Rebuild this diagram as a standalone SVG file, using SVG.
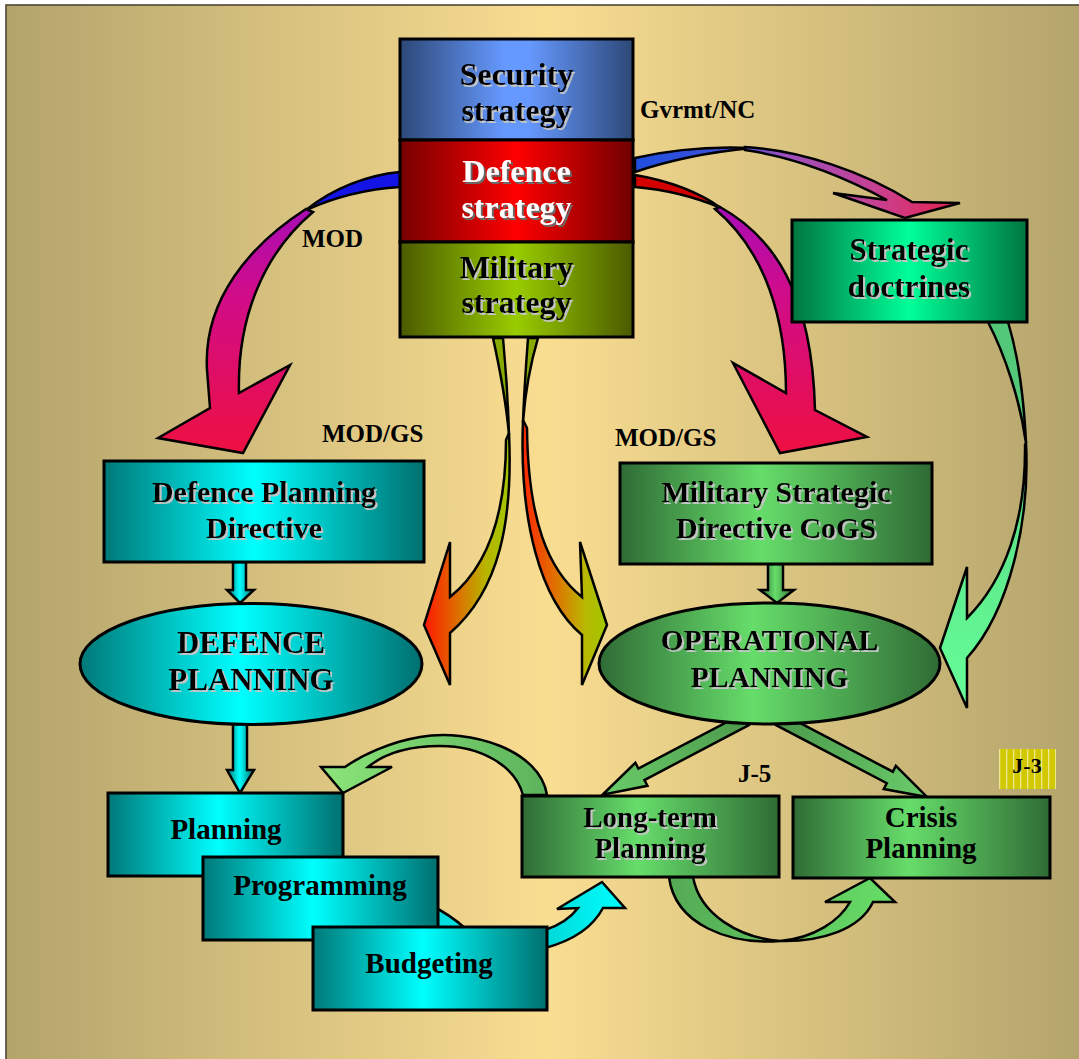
<svg xmlns="http://www.w3.org/2000/svg" width="1079" height="1059" viewBox="0 0 1079 1059">
<defs>
  <linearGradient id="bg" x1="0" y1="0" x2="1" y2="0">
    <stop offset="0" stop-color="#b3a46c"/><stop offset="0.5" stop-color="#f9dd91"/><stop offset="1" stop-color="#b3a46c"/>
  </linearGradient>
  <linearGradient id="gBlue" x1="0" y1="0" x2="1" y2="0">
    <stop offset="0" stop-color="#2d4877"/><stop offset="0.45" stop-color="#6699ff"/><stop offset="0.55" stop-color="#6699ff"/><stop offset="1" stop-color="#2d4877"/>
  </linearGradient>
  <linearGradient id="gRed" x1="0" y1="0" x2="1" y2="0">
    <stop offset="0" stop-color="#760000"/><stop offset="0.5" stop-color="#ff0000"/><stop offset="1" stop-color="#700000"/>
  </linearGradient>
  <linearGradient id="gOlive" x1="0" y1="0" x2="1" y2="0">
    <stop offset="0" stop-color="#4a5a00"/><stop offset="0.5" stop-color="#99cc00"/><stop offset="1" stop-color="#4a5a00"/>
  </linearGradient>
  <linearGradient id="gTeal" x1="0" y1="0" x2="1" y2="0">
    <stop offset="0" stop-color="#007878"/><stop offset="0.47" stop-color="#00ffff"/><stop offset="1" stop-color="#006f6f"/>
  </linearGradient>
  <linearGradient id="gGreen" x1="0" y1="0" x2="1" y2="0">
    <stop offset="0" stop-color="#2f6b35"/><stop offset="0.45" stop-color="#66dd6a"/><stop offset="1" stop-color="#2f6b35"/>
  </linearGradient>
  <linearGradient id="gSD" x1="0" y1="0" x2="1" y2="0">
    <stop offset="0" stop-color="#007540"/><stop offset="0.5" stop-color="#00ff99"/><stop offset="1" stop-color="#007540"/>
  </linearGradient>
  <linearGradient id="gMod" gradientUnits="userSpaceOnUse" x1="0" y1="205" x2="0" y2="455">
    <stop offset="0" stop-color="#a80cb8"/><stop offset="0.35" stop-color="#d00c8a"/><stop offset="1" stop-color="#ee1040"/>
  </linearGradient>
  <linearGradient id="gDoc" gradientUnits="userSpaceOnUse" x1="635" y1="0" x2="960" y2="0">
    <stop offset="0" stop-color="#1f4fe0"/><stop offset="0.3" stop-color="#4050d8"/><stop offset="0.45" stop-color="#9a50c0"/><stop offset="0.75" stop-color="#c84090"/><stop offset="1" stop-color="#e8204a"/>
  </linearGradient>
  <linearGradient id="gCL" gradientUnits="userSpaceOnUse" x1="424" y1="0" x2="512" y2="0">
    <stop offset="0" stop-color="#ff1800"/><stop offset="0.35" stop-color="#e06800"/><stop offset="0.7" stop-color="#b8b400"/><stop offset="1" stop-color="#9ec800"/>
  </linearGradient>
  <linearGradient id="gCR" gradientUnits="userSpaceOnUse" x1="520" y1="0" x2="607" y2="0">
    <stop offset="0" stop-color="#ff2000"/><stop offset="0.4" stop-color="#e07000"/><stop offset="0.75" stop-color="#b8b800"/><stop offset="1" stop-color="#a0c800"/>
  </linearGradient>
  <linearGradient id="gDocOp" gradientUnits="userSpaceOnUse" x1="0" y1="322" x2="0" y2="708">
    <stop offset="0" stop-color="#52c878"/><stop offset="1" stop-color="#66ff99"/>
  </linearGradient>
  <linearGradient id="gOP" x1="0" y1="0" x2="1" y2="0">
    <stop offset="0" stop-color="#4c9a4c"/><stop offset="1" stop-color="#6acc6a"/>
  </linearGradient>
  <linearGradient id="gLP" gradientUnits="userSpaceOnUse" x1="321" y1="0" x2="547" y2="0">
    <stop offset="0" stop-color="#8be57a"/><stop offset="1" stop-color="#5cb35c"/>
  </linearGradient>
  <linearGradient id="gLC" gradientUnits="userSpaceOnUse" x1="669" y1="0" x2="895" y2="0">
    <stop offset="0" stop-color="#55aa55"/><stop offset="1" stop-color="#66dd66"/>
  </linearGradient>
  <linearGradient id="gCy" gradientUnits="userSpaceOnUse" x1="545" y1="0" x2="625" y2="0">
    <stop offset="0" stop-color="#00d8d8"/><stop offset="1" stop-color="#00ffff"/>
  </linearGradient>
  <pattern id="stripes" width="7" height="40" patternUnits="userSpaceOnUse">
    <rect width="7" height="40" fill="#d2c800"/><rect x="5" width="1.3" height="40" fill="#ece890"/>
  </pattern>
  <filter id="sh" x="-5%" y="-10%" width="115%" height="140%">
    <feDropShadow dx="2" dy="2" stdDeviation="0.3" flood-color="#c4c4c4" flood-opacity="1"/>
  </filter>
  <filter id="shw" x="-5%" y="-10%" width="115%" height="140%">
    <feDropShadow dx="2" dy="2" stdDeviation="0.3" flood-color="#6a6a6a" flood-opacity="1"/>
  </filter>
</defs>
<style>
  .bx{stroke:#000;stroke-width:3}
  .ar{stroke:#000;stroke-width:2.5;stroke-linejoin:miter}
  .t{font-family:"Liberation Serif","Times New Roman",serif;font-weight:bold;text-anchor:middle;fill:#000}
  .lb{font-family:"Liberation Serif","Times New Roman",serif;font-weight:bold;fill:#000;font-size:25px}
</style>

<rect x="0" y="0" width="1079" height="1059" fill="#ffffff"/>
<rect x="6" y="5" width="1080" height="1060" fill="url(#bg)" stroke="#4e4636" stroke-width="1.6"/>

<g id="connectors">
  <!-- MOD arrow -->
  <path class="ar" fill="#1414e6" d="M400,172 C368,175 333,188 306,210 C335,197 368,189 400,187 Z"/>
  <path class="ar" fill="url(#gMod)" d="M306,209 C250,245 203,300 207,370 L210,408 L158,438 L243,453 L290,365 L239,393 C237,320 262,255 313,212 Z"/>
  <!-- Defence strategy to Military Strategic Directive -->
  <path class="ar" fill="#d40000" d="M635,175 C670,181 700,193 721,208 C700,199 670,190 635,187 Z"/>
  <path class="ar" fill="url(#gMod)" d="M720,207 C772,236 812,290 815,410 L867,437 L780,453 L733,363 L786,393 C786,320 766,252 715,209 Z"/>
  <!-- to Strategic doctrines -->
  <path class="ar" fill="url(#gDoc)" d="M635,158 C670,150 710,146 752,148 C710,152 670,160 635,172 Z"/>
  <path class="ar" fill="url(#gDoc)" d="M745,147 C800,150 865,172 912,202 L960,203 L905,218 L833,193 L887,200 C850,180 800,158 745,150 Z"/>
  <!-- Strategic doctrines to Operational planning -->
  <path class="ar" fill="#52c878" d="M988,322 C1005,355 1020,400 1026,443 C1024,400 1018,355 1008,322 Z"/>
  <path class="ar" fill="url(#gDocOp)" d="M1026,443 C1030,520 1010,610 967,658 L967,708 L940,648 L967,567 L967,618 C1005,580 1026,520 1025,445 Z"/>
  <!-- Military strategy to Defence planning -->
  <path class="ar" fill="#88aa00" d="M493,338 C500,370 506,400 509,435 C508,400 506,370 503,338 Z"/>
  <path class="ar" fill="url(#gCL)" d="M509,433 C513,520 500,590 450,633 L450,685 L424,625 L450,542 L450,597 C490,565 506,510 506,440 Z"/>
  <!-- Military strategy to Operational planning -->
  <path class="ar" fill="#88aa00" d="M528,338 C526,365 524,395 523,422 C525,395 530,365 538,338 Z"/>
  <path class="ar" fill="url(#gCR)" d="M523,420 C519,520 540,600 582,635 L582,685 L607,625 L580,542 L582,597 C548,570 528,520 527,428 Z"/>
  <!-- straight arrows -->
  <path class="ar" fill="url(#gTeal)" d="M233,562 L246,562 L246,590 L254,590 L240,603 L227,590 L233,590 Z"/>
  <path class="ar" fill="url(#gTeal)" d="M233,722 L247,722 L247,770 L254,770 L240,793 L227,770 L233,770 Z"/>
  <path class="ar" fill="url(#gGreen)" d="M768,564 L783,564 L783,590 L794,590 L777,603 L760,590 L768,590 Z"/>
  <path class="ar" fill="url(#gOP)" transform="translate(737,724) rotate(152.26)" d="M-10,-6.5 L108,-6.5 L108,-13 L152,0 L108,13 L108,6.5 L-10,6.5 Z"/>
  <path class="ar" fill="url(#gOP)" transform="translate(788,724) rotate(27.7)" d="M-10,-6.5 L115,-6.5 L115,-13 L157,0 L115,13 L115,6.5 L-10,6.5 Z"/>
  <!-- Long-term to Planning -->
  <path class="ar" fill="url(#gLP)" d="M547,795 C540,750 470,728 420,737 C390,742 362,755 345,767 L321,767 L343,793 L392,767 L368,767 C385,753 410,746 440,746 C480,746 515,765 523,795 Z"/>
  <!-- Budgeting to Long-term -->
  <path class="ar" fill="url(#gCy)" d="M545,930 C560,925 572,916 578,908 L557,909 L602,882 L625,908 L603,908 C594,925 575,940 545,948 Z"/>
  <!-- Long-term to Crisis -->
  <path class="ar" fill="url(#gLC)" d="M669,877 C675,925 730,945 780,941 C815,938 840,920 850,902 L825,902 L870,878 L895,902 L873,902 C860,930 820,942 780,941 C740,938 700,915 693,877 Z"/>
  <!-- hidden cyan arrow part between Programming and Budgeting -->
  <path class="ar" fill="#00e0e0" d="M430,905 C445,912 456,920 466,929 L430,935 Z"/>
</g>

<g id="security-strategy">
  <rect class="bx" x="400" y="39" width="233" height="101" fill="url(#gBlue)"/>
  <text class="t" font-size="32" filter="url(#sh)"><tspan x="516.5" y="85">Security</tspan><tspan x="516.5" y="121">strategy</tspan></text>
</g>
<g id="defence-strategy">
  <rect class="bx" x="400" y="140" width="233" height="102" fill="url(#gRed)"/>
  <text class="t" font-size="32" fill="#ffffff" style="fill:#ffffff" filter="url(#shw)"><tspan x="516.5" y="182">Defence</tspan><tspan x="516.5" y="218">strategy</tspan></text>
</g>
<g id="military-strategy">
  <rect class="bx" x="400" y="242" width="233" height="95" fill="url(#gOlive)"/>
  <text class="t" font-size="32" filter="url(#sh)"><tspan x="516.5" y="278">Military</tspan><tspan x="516.5" y="313">strategy</tspan></text>
</g>
<g id="strategic-doctrines">
  <rect class="bx" x="792" y="220" width="235" height="102" fill="url(#gSD)"/>
  <text class="t" font-size="31" filter="url(#sh)"><tspan x="909" y="260">Strategic</tspan><tspan x="909" y="297">doctrines</tspan></text>
</g>
<g id="defence-planning-directive">
  <rect class="bx" x="104" y="461" width="320" height="101" fill="url(#gTeal)"/>
  <text class="t" font-size="30" filter="url(#sh)"><tspan x="264" y="502">Defence Planning</tspan><tspan x="264" y="538">Directive</tspan></text>
</g>
<g id="military-strategic-directive">
  <rect class="bx" x="620" y="463" width="312" height="101" fill="url(#gGreen)"/>
  <text class="t" font-size="30" filter="url(#sh)"><tspan x="776" y="502">Military Strategic</tspan><tspan x="776" y="538">Directive CoGS</tspan></text>
</g>
<g id="defence-planning">
  <ellipse class="bx" cx="251" cy="664" rx="171" ry="60.5" fill="url(#gTeal)"/>
  <text class="t" font-size="31" filter="url(#sh)"><tspan x="251" y="653">DEFENCE</tspan><tspan x="251" y="690">PLANNING</tspan></text>
</g>
<g id="operational-planning">
  <ellipse class="bx" cx="769.5" cy="663.5" rx="170.5" ry="60.5" fill="url(#gGreen)"/>
  <text class="t" font-size="29.5" filter="url(#sh)"><tspan x="769.5" y="650">OPERATIONAL</tspan><tspan x="769.5" y="687">PLANNING</tspan></text>
</g>
<g id="planning">
  <rect class="bx" x="108" y="793" width="235" height="83" fill="url(#gTeal)"/>
  <text class="t" font-size="29" x="226" y="839">Planning</text>
</g>
<g id="programming">
  <rect class="bx" x="203" y="857" width="235" height="83" fill="url(#gTeal)"/>
  <text class="t" font-size="29" x="320" y="895">Programming</text>
</g>
<g id="budgeting">
  <rect class="bx" x="313" y="927" width="234" height="83" fill="url(#gTeal)"/>
  <text class="t" font-size="29" x="429" y="973">Budgeting</text>
</g>
<g id="long-term-planning">
  <rect class="bx" x="522" y="796" width="257" height="81" fill="url(#gGreen)"/>
  <text class="t" font-size="29" filter="url(#sh)"><tspan x="650" y="827">Long-term</tspan><tspan x="650" y="858">Planning</tspan></text>
</g>
<g id="crisis-planning">
  <rect class="bx" x="793" y="797" width="257" height="81" fill="url(#gGreen)"/>
  <text class="t" font-size="29"><tspan x="921" y="827">Crisis</tspan><tspan x="921" y="858">Planning</tspan></text>
</g>

<g id="labels">
  <text class="lb" x="640" y="118">Gvrmt/NC</text>
  <text class="lb" x="302" y="247">MOD</text>
  <text class="lb" x="322" y="442">MOD/GS</text>
  <text class="lb" x="615" y="446">MOD/GS</text>
  <text class="lb" x="738" y="782">J-5</text>
  <rect x="999" y="749" width="57" height="40" fill="url(#stripes)"/>
  <text class="t" font-size="22" x="1027" y="773">J-3</text>
</g>
</svg>
